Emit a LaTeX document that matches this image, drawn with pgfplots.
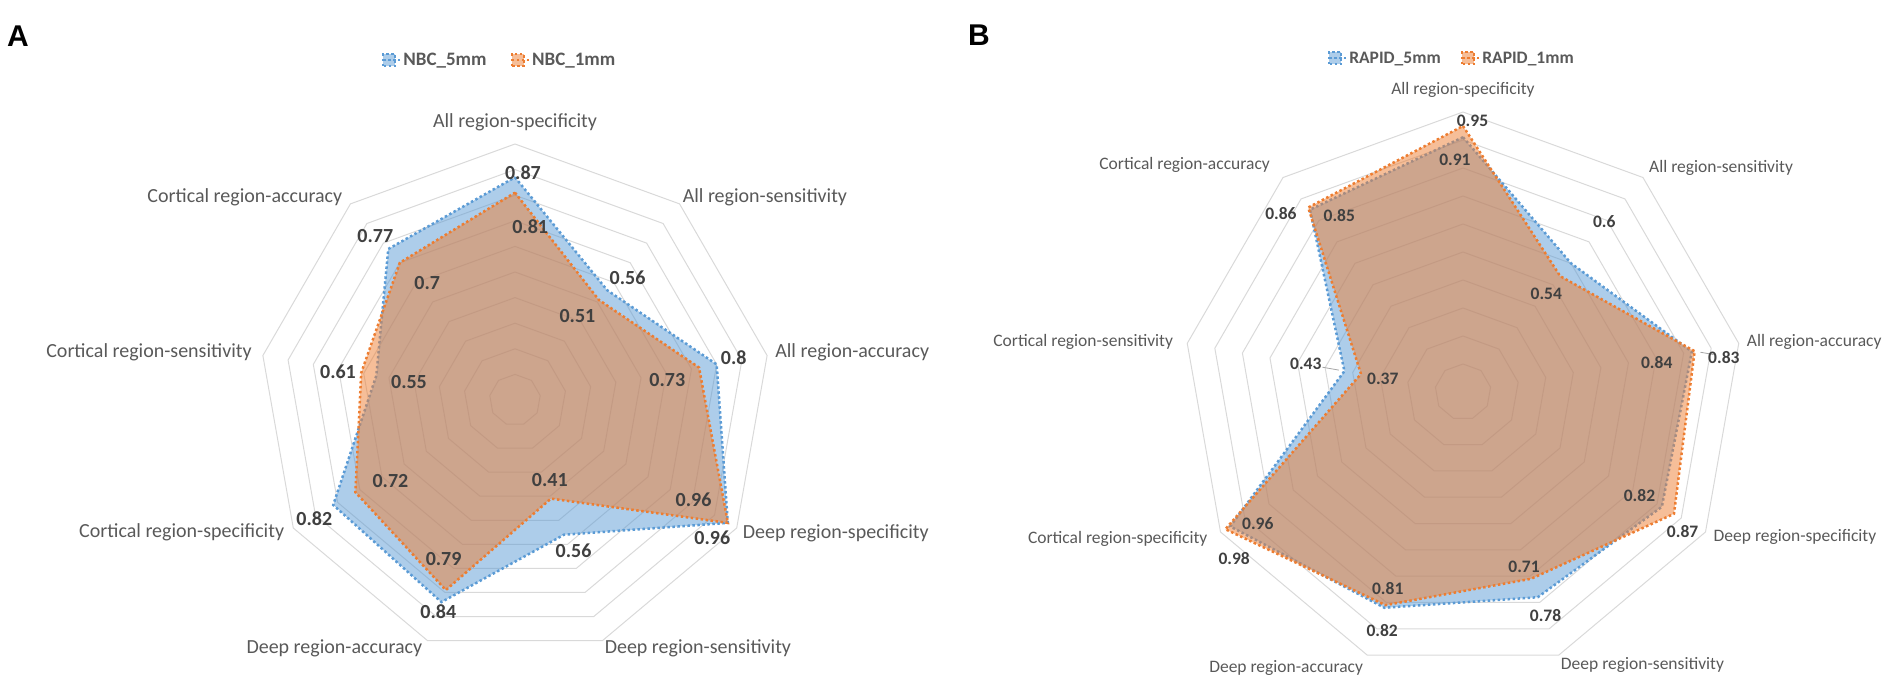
\documentclass[border=0pt]{standalone}
\usepackage{pgfplots}
\pgfplotsset{compat=1.18}
\usepgfplotslibrary{polar}
\usepackage{fontspec}
\setmainfont{Carlito}
\newfontfamily\arialfont{Liberation Sans}

\definecolor{serA}{HTML}{5B9BD5}
\definecolor{serB}{HTML}{ED7D31}
\definecolor{ringc}{HTML}{D9D9D9}
\definecolor{catc}{HTML}{595959}
\definecolor{valc}{HTML}{404040}

\pgfplotsset{
  legend image code/.code={\draw[#1] (0pt,-6pt) rectangle (12pt,6pt);
    \path (0pt,0pt) -- (17pt,0pt);},
  radar/.style={scale only axis, anchor=origin, ymin=0, ymax=1, hide axis,
    clip=false, xtick=\empty, ytick=\empty},
  ring/.style={ringc, line width=1pt, forget plot},
  s5/.style={draw=serA, fill=serA, fill opacity=0.5, line width=2.5pt,
    dash pattern=on 2.5pt off 2.5pt},
  s1/.style={draw=serB, fill=serB, fill opacity=0.5, line width=2.5pt,
    dash pattern=on 2.5pt off 2.5pt},
}

\begin{document}
\begin{tikzpicture}[x=1pt,y=1pt]
\tikzset{
  catA/.style={text=catc, inner sep=0pt, font=\fontsize{20}{24}\selectfont},
  valA/.style={text=valc, inner sep=0pt, font=\fontsize{20}{24}\selectfont\bfseries},
  catB/.style={text=catc, inner sep=0pt, font=\fontsize{17.5}{21}\selectfont},
  valB/.style={text=valc, inner sep=0pt, font=\fontsize{17.5}{21}\selectfont\bfseries},
  lead/.style={draw=gray!70, line width=0.8pt},
}

% ---------------- panel A ----------------
\begin{polaraxis}[radar, at={(515pt,283pt)}, width=512pt, height=512pt,
  legend style={draw=none, fill=none, legend columns=2, text=catc,
    font=\fontsize{19}{23}\selectfont\bfseries,
    at={(0.47,1.164)}, anchor=center,
    /tikz/every even column/.append style={column sep=22pt}}]
\pgfplotsinvokeforeach{0.1,0.2,0.3,0.4,0.5,0.6,0.7,0.8,0.9,1.0}{
  \addplot[ring] coordinates {(90,#1) (50,#1) (10,#1) (330,#1) (290,#1)
    (250,#1) (210,#1) (170,#1) (130,#1) (90,#1)};
}
% NBC_5mm
\addplot[s5] coordinates {(90,0.87) (50,0.56) (10,0.8) (330,0.96) (290,0.56)
  (250,0.84) (210,0.82) (170,0.55) (130,0.77) (90,0.87)};
\addlegendentry{NBC\_5mm}
% NBC_1mm
\addplot[s1] coordinates {(90,0.81) (50,0.51) (10,0.73) (330,0.96) (290,0.41)
  (250,0.79) (210,0.72) (170,0.61) (130,0.7) (90,0.81)};
\addlegendentry{NBC\_1mm}

\node[valA] at (axis cs:88,0.89) {0.87};
\node[valA] at (axis cs:47.4,0.65) {0.56};
\node[valA] at (axis cs:10.9,0.87) {0.8};
\node[valA] at (axis cs:325.1,0.94) {0.96};
\node[valA] at (axis cs:291.3,0.63) {0.56};
\node[valA] at (axis cs:250.1,0.88) {0.84};
\node[valA] at (axis cs:210.5,0.91) {0.82};
\node[valA] at (axis cs:170.4,0.42) {0.55};
\node[valA] at (axis cs:130.5,0.84) {0.77};
\node[valA] at (axis cs:85,0.68) {0.81};
\node[valA] at (axis cs:53.5,0.41) {0.51};
\node[valA] at (axis cs:7.5,0.60) {0.73};
\node[valA] at (axis cs:330.7,0.80) {0.96};
\node[valA] at (axis cs:293.6,0.34) {0.41};
\node[valA] at (axis cs:245.8,0.68) {0.79};
\node[valA] at (axis cs:213,0.58) {0.72};
\node[valA] at (axis cs:171,0.70) {0.61};
\node[valA] at (axis cs:127,0.57) {0.7};

\node[catA, anchor=center, yshift=22pt] at (axis cs:90,1) {All region-specificity};
\node[catA, anchor=west, xshift=3pt, yshift=7pt] at (axis cs:50,1) {All region-sensitivity};
\node[catA, anchor=west, xshift=8pt, yshift=3pt] at (axis cs:10,1) {All region-accuracy};
\node[catA, anchor=west, xshift=6pt, yshift=-5pt] at (axis cs:330,1) {Deep region-specificity};
\node[catA, anchor=west, xshift=2pt, yshift=-8pt] at (axis cs:290,1) {Deep region-sensitivity};
\node[catA, anchor=east, xshift=-5pt, yshift=-8pt] at (axis cs:250,1) {Deep region-accuracy};
\node[catA, anchor=east, xshift=-9pt, yshift=-4pt] at (axis cs:210,1) {Cortical region-specificity};
\node[catA, anchor=east, xshift=-11pt, yshift=3pt] at (axis cs:170,1) {Cortical region-sensitivity};
\node[catA, anchor=east, xshift=-8pt, yshift=7pt] at (axis cs:130,1) {Cortical region-accuracy};
\end{polaraxis}

% ---------------- panel B ----------------
\begin{polaraxis}[radar, at={(1463pt,291pt)}, width=560pt, height=560pt,
  legend style={draw=none, fill=none, legend columns=2, text=catc,
    font=\fontsize{17.5}{21}\selectfont\bfseries,
    at={(0.48,1.096)}, anchor=center,
    /tikz/every even column/.append style={column sep=18pt}}]
\pgfplotsinvokeforeach{0.1,0.2,0.3,0.4,0.5,0.6,0.7,0.8,0.9,1.0}{
  \addplot[ring] coordinates {(90,#1) (50,#1) (10,#1) (330,#1) (290,#1)
    (250,#1) (210,#1) (170,#1) (130,#1) (90,#1)};
}
% RAPID_5mm
\addplot[s5] coordinates {(90,0.91) (50,0.6) (10,0.83) (330,0.82) (290,0.78)
  (250,0.82) (210,0.96) (170,0.43) (130,0.85) (90,0.91)};
\addlegendentry{RAPID\_5mm}
% RAPID_1mm
\addplot[s1] coordinates {(90,0.95) (50,0.54) (10,0.84) (330,0.87) (290,0.71)
  (250,0.81) (210,0.98) (170,0.37) (130,0.86) (90,0.95)};
\addlegendentry{RAPID\_1mm}

\draw[lead] (axis cs:170,0.45) -- (axis cs:170,0.51);
\draw[lead] (axis cs:9.5,0.86) -- (axis cs:8.5,0.905);

\node[valB] at (axis cs:92,0.83) {0.91};
\node[valB] at (axis cs:50.3,0.79) {0.6};
\node[valB] at (axis cs:7.6,0.94) {0.83};
\node[valB] at (axis cs:329.7,0.73) {0.82};
\node[valB] at (axis cs:290.3,0.85) {0.78};
\node[valB] at (axis cs:251.3,0.90) {0.82};
\node[valB] at (axis cs:212.6,0.87) {0.96};
\node[valB] at (axis cs:170,0.57) {0.43};
\node[valB] at (axis cs:125,0.77) {0.85};
\node[valB] at (axis cs:88,0.97) {0.95};
\node[valB] at (axis cs:49.7,0.46) {0.54};
\node[valB] at (axis cs:8.7,0.70) {0.84};
\node[valB] at (axis cs:327.5,0.93) {0.87};
\node[valB] at (axis cs:289.3,0.66) {0.71};
\node[valB] at (axis cs:249,0.75) {0.81};
\node[valB] at (axis cs:216,1.01) {0.98};
\node[valB] at (axis cs:171,0.29) {0.37};
\node[valB] at (axis cs:135.6,0.91) {0.86};

\node[catB, anchor=center, yshift=22pt] at (axis cs:90,1) {All region-specificity};
\node[catB, anchor=west, xshift=6pt, yshift=10pt] at (axis cs:50,1) {All region-sensitivity};
\node[catB, anchor=west, xshift=8pt, yshift=1pt] at (axis cs:10,1) {All region-accuracy};
\node[catB, anchor=west, xshift=8pt, yshift=-5pt] at (axis cs:330,1) {Deep region-specificity};
\node[catB, anchor=west, xshift=2pt, yshift=-10pt] at (axis cs:290,1) {Deep region-sensitivity};
\node[catB, anchor=east, xshift=-4pt, yshift=-13pt] at (axis cs:250,1) {Deep region-accuracy};
\node[catB, anchor=east, xshift=-13pt, yshift=-7pt] at (axis cs:210,1) {Cortical region-specificity};
\node[catB, anchor=east, xshift=-14pt, yshift=1pt] at (axis cs:170,1) {Cortical region-sensitivity};
\node[catB, anchor=east, xshift=-13pt, yshift=13pt] at (axis cs:130,1) {Cortical region-accuracy};
\end{polaraxis}

\node[font=\arialfont\bfseries\fontsize{30}{34}\selectfont] at (18,647) {A};
\node[font=\arialfont\bfseries\fontsize{30}{34}\selectfont] at (979,648) {B};

\pgfresetboundingbox
\path (0,0) rectangle (1904,683);
\end{tikzpicture}
\end{document}
